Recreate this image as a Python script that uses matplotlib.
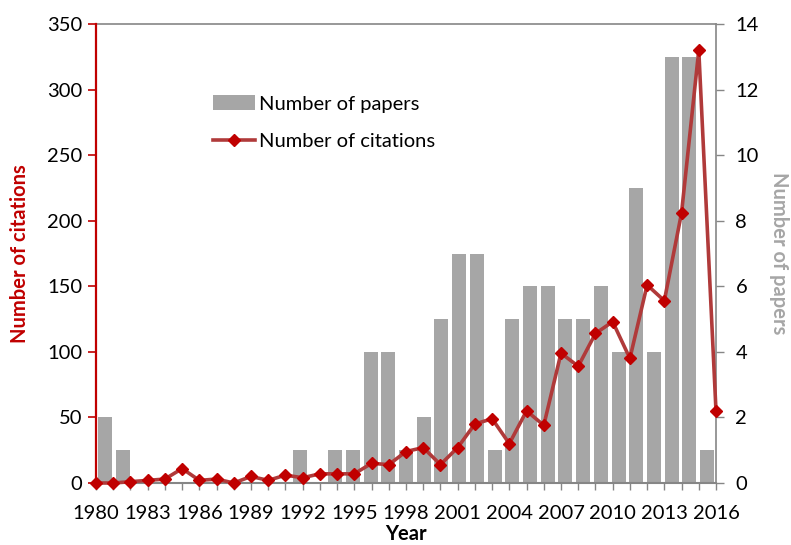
import numpy as np
import matplotlib.pyplot as plt
from matplotlib.patches import Patch
from matplotlib.lines import Line2D

plt.rcParams['font.family'] = ['Lato', 'DejaVu Sans']

# citations per year, 1980-2016
years = np.arange(1980, 2017)
citations = [0, 0, 1, 2, 3, 11, 2, 3, 0, 5, 2, 6, 4, 7, 7, 7, 15, 14, 24, 27,
             14, 27, 45, 49, 30, 55, 44, 99, 89, 114, 123, 95, 151, 139, 206, 330, 55]

# papers series: 35 category slots across the same span
papers = [2, 1, 0, 0, 0, 0, 0, 0, 0, 0, 0, 1, 0, 1, 1, 4, 4, 1, 2, 5,
          7, 7, 1, 5, 6, 6, 5, 5, 6, 4, 9, 4, 13, 13, 1]

tick_years = list(range(1980, 2017, 3))

RED = '#C00000'
LINE_RED = '#B03A3A'
GRAY = '#A6A6A6'
AX_GRAY = '#868686'

fig = plt.figure(figsize=(7.91, 5.45), dpi=100)
rect = [96 / 791, 1 - 483 / 545, 620 / 791, 459 / 545]

# bars (right axis)
axb = fig.add_axes(rect)
slots = np.arange(len(papers))
axb.bar(slots, papers, width=0.79, color=GRAY, edgecolor='none')
axb.set_xlim(-0.5, len(papers) - 0.5)
axb.set_ylim(0, 14)
axb.set_yticks(range(0, 15, 2))
axb.yaxis.tick_right()
axb.yaxis.set_label_position('right')
axb.set_xticks([])
axb.tick_params(axis='y', direction='out', length=6, width=1, color=AX_GRAY,
                labelsize=14.5, pad=8)
axb.set_ylabel('Number of papers', color=GRAY, fontsize=14.5, fontweight='bold',
               rotation=270, labelpad=22)
for side in ['left', 'bottom']:
    axb.spines[side].set_visible(False)
axb.spines['right'].set_color(AX_GRAY)
axb.spines['right'].set_linewidth(1.2)
axb.spines['top'].set_color(AX_GRAY)
axb.spines['top'].set_linewidth(1.2)

# citations line (left axis)
ax = fig.add_axes(rect)
ax.patch.set_visible(False)
ax.plot(years, citations, color=LINE_RED, lw=2.6, marker='D', ms=6,
        mfc=RED, mec=RED, clip_on=False, zorder=5)
ax.set_xlim(1980, 2016)
ax.set_ylim(0, 350)
ax.set_yticks(range(0, 351, 50))
ax.set_xticks(years, minor=True)
ax.set_xticks(tick_years)
ax.tick_params(axis='y', direction='out', length=6, width=1.2, color=RED,
               labelsize=14.5, pad=4)
ax.tick_params(axis='x', which='both', direction='out', length=5, width=1,
               color=AX_GRAY, labelsize=14.5, pad=11)
ax.set_ylabel('Number of citations', color=RED, fontsize=14.5, fontweight='bold',
              labelpad=12)
ax.set_xlabel('Year', fontsize=14.5, fontweight='bold', labelpad=1.5)
ax.spines['left'].set_color(RED)
ax.spines['left'].set_linewidth(1.6)
ax.spines['bottom'].set_color(AX_GRAY)
ax.spines['bottom'].set_linewidth(1.5)
ax.spines['right'].set_visible(False)
ax.spines['top'].set_visible(False)

handles = [Patch(facecolor=GRAY, edgecolor='none'),
           Line2D([], [], color=LINE_RED, lw=2.6, marker='D', ms=6,
                  mfc=RED, mec=RED)]
ax.legend(handles, ['Number of papers', 'Number of citations'],
          loc='upper left', bbox_to_anchor=(0.175, 0.863), frameon=False,
          fontsize=14.5, handlelength=2.1, handleheight=0.8,
          handletextpad=0.2, labelspacing=1.0, borderaxespad=0)

fig.savefig('out.png', dpi=100)
